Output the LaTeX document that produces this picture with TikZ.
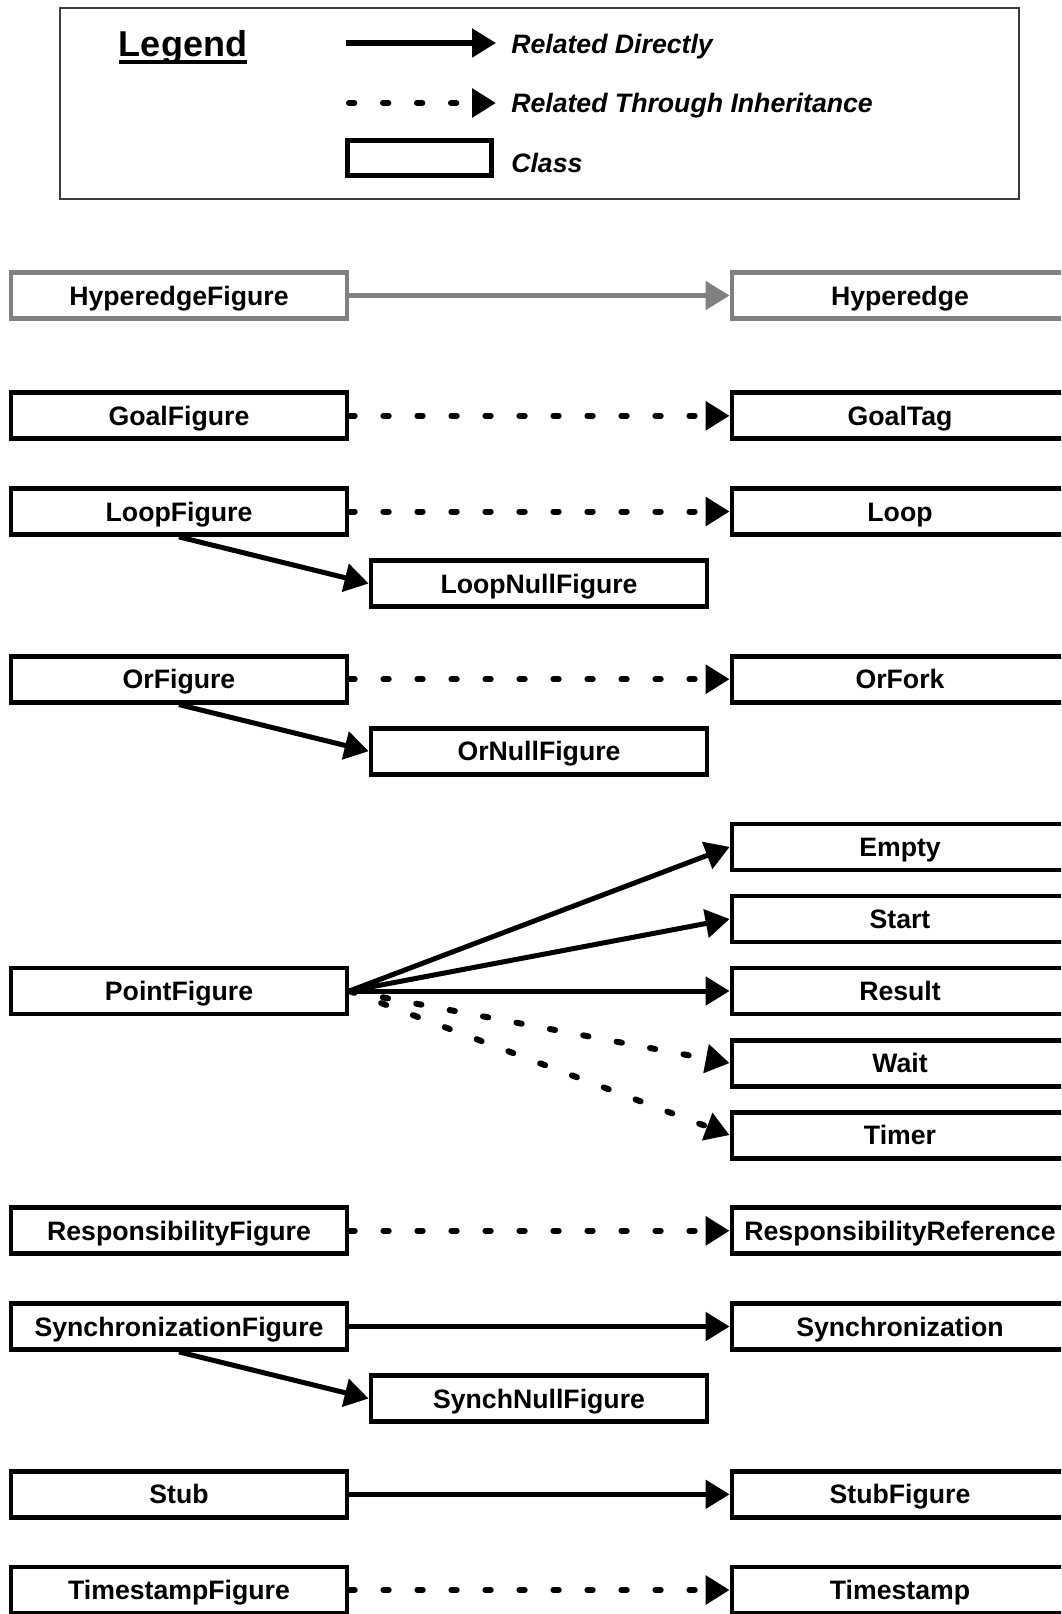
\documentclass[tikz,border=0pt]{standalone}
\usepackage{fontspec}
\setmainfont{Liberation Sans}
\usetikzlibrary{arrows.meta}
\definecolor{edgegray}{RGB}{128,128,128}
\definecolor{frame}{RGB}{60,60,60}
\begin{document}
\begin{tikzpicture}[x=0.75pt,y=-0.75pt,
  classbox/.style={draw, line width=3.6pt, minimum width=252pt, minimum height=34.5pt,
    inner sep=0pt, font=\bfseries\fontsize{20pt}{24pt}\selectfont,
    text height=14.3pt, text depth=0pt},
  ghost/.style={draw=edgegray},
  tip/.style={-{Triangle[length=18pt,width=21pt]}},
  direct/.style={tip, line width=3.75pt},
  inherit/.style={tip, line width=4.5pt, line cap=round, dash pattern=on 4pt off 21.5pt},
  legtext/.style={anchor=west, inner sep=0pt, font=\bfseries\itshape\fontsize{20pt}{24pt}\selectfont,
    text height=14.3pt, text depth=0pt}]

\useasboundingbox (0,0) rectangle (1061,1614);
\clip (0,0) rectangle (1061,1614);
\fill[white] (0,0) rectangle (1061,1614);

% ---------- legend ----------
\draw[frame, line width=0.9pt] (60,8) rectangle (1019,199);
\node[anchor=base, inner sep=0pt, font=\bfseries\fontsize{27pt}{32pt}\selectfont] (legtitle) at (183,56) {Legend};
\draw[line width=2.3pt] ([yshift=-4.5pt]legtitle.base west) -- ([yshift=-4.5pt]legtitle.base east);

\coordinate (ld1) at (346,43);
\coordinate (ld2) at (496,43);
\draw[direct, line width=4pt] (ld1) -- (ld2);
\node[legtext] (legdirect) at (511,44) {Related Directly};

\coordinate (li1) at (349,103);
\coordinate (li2) at (496,103);
\draw[inherit] (li1) -- (li2);
\node[legtext] (leginherit) at (511,103) {Related Through Inheritance};

\node[draw, line width=3.6pt, minimum width=108pt, minimum height=26.5pt, inner sep=0pt] (legclass) at (419.5,158) {};
\node[legtext] (legclasstext) at (511,163) {Class};

% ---------- classes ----------
% left column
\node[classbox, ghost] (hypf) at (179,295.5) {HyperedgeFigure};
\node[classbox] (goalf)  at (179,415.8)  {GoalFigure};
\node[classbox] (loopf)  at (179,511.5)  {LoopFigure};
\node[classbox] (orf)    at (179,679.2)  {OrFigure};
\node[classbox] (pointf) at (179,991)    {PointFigure};
\node[classbox] (respf)  at (179,1230.8) {ResponsibilityFigure};
\node[classbox] (syncf)  at (179,1326.5) {SynchronizationFigure};
\node[classbox] (stub)   at (179,1494.3) {Stub};
\node[classbox] (tsf)    at (179,1590)   {TimestampFigure};

% middle column
\node[classbox] (loopnull)  at (539,583.5)  {LoopNullFigure};
\node[classbox] (ornull)    at (539,751.2)  {OrNullFigure};
\node[classbox] (synchnull) at (539,1398.5) {SynchNullFigure};

% right column
\node[classbox, ghost] (hyp) at (900,295.5) {Hyperedge};
\node[classbox] (goaltag) at (900,415.8)  {GoalTag};
\node[classbox] (loop)    at (900,511.5)  {Loop};
\node[classbox] (orfork)  at (900,679.2)  {OrFork};
\node[classbox] (empty)   at (900,846.9)  {Empty};
\node[classbox] (start)   at (900,919)    {Start};
\node[classbox] (result)  at (900,991)    {Result};
\node[classbox] (wait)    at (900,1063.1) {Wait};
\node[classbox] (timer)   at (900,1135.1) {Timer};
\node[classbox] (respref) at (900,1230.8) {ResponsibilityReference};
\node[classbox] (sync)    at (900,1326.5) {Synchronization};
\node[classbox] (stubf)   at (900,1494.3) {StubFigure};
\node[classbox] (ts)      at (900,1590)   {Timestamp};

% ---------- relations ----------
\draw[direct, edgegray] (hypf) -- (hyp);

\draw[inherit] (goalf) -- (goaltag);
\draw[inherit] (loopf) -- (loop);
\draw[direct] (loopf.south) -- (loopnull.west);
\draw[inherit] (orf) -- (orfork);
\draw[direct] (orf.south) -- (ornull.west);

\draw[direct] (pointf.east) -- (empty.west);
\draw[direct] (pointf.east) -- (start.west);
\draw[direct] (pointf.east) -- (result.west);
\draw[inherit] (pointf.east) -- (wait.west);
\draw[inherit] (pointf.east) -- (timer.west);

\draw[inherit] (respf) -- (respref);
\draw[direct] (syncf) -- (sync);
\draw[direct] (syncf.south) -- (synchnull.west);
\draw[direct] (stub) -- (stubf);
\draw[inherit] (tsf) -- (ts);

\end{tikzpicture}
\end{document}
